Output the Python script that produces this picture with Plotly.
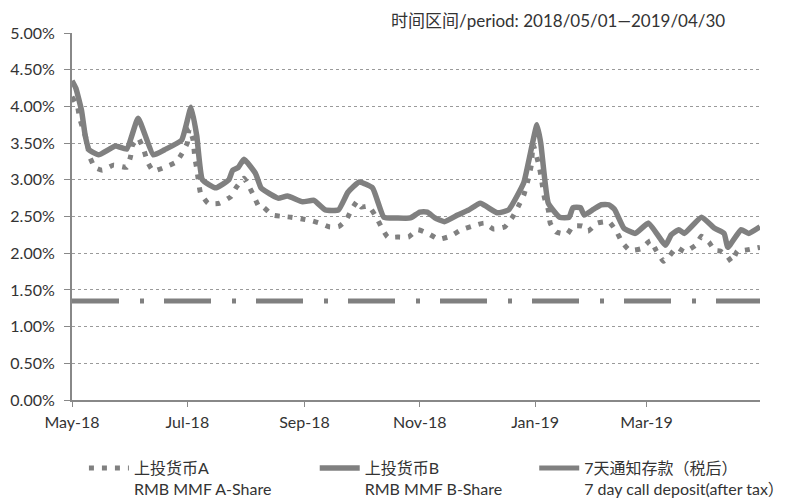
import plotly.graph_objects as go

# ---- data ----
a_dates = ["2018-05-01","2018-05-04","2018-05-05","2018-05-07","2018-05-09","2018-05-10","2018-05-13","2018-05-17",
           "2018-05-23","2018-05-30","2018-06-01","2018-06-02","2018-06-05","2018-06-08","2018-06-10","2018-06-13",
           "2018-06-19","2018-06-25","2018-06-28","2018-07-01","2018-07-02","2018-07-04","2018-07-05","2018-07-06",
           "2018-07-08","2018-07-12","2018-07-18","2018-07-24","2018-07-27","2018-07-31","2018-08-02","2018-08-05",
           "2018-08-08","2018-08-10","2018-08-15","2018-08-21","2018-08-25","2018-08-30","2018-09-05","2018-09-09",
           "2018-09-14","2018-09-19","2018-09-23","2018-09-26","2018-09-29","2018-10-01","2018-10-05","2018-10-09",
           "2018-10-12","2018-10-15","2018-10-20","2018-10-26","2018-10-31","2018-11-06","2018-11-11","2018-11-17",
           "2018-11-23","2018-11-29","2018-12-05","2018-12-10","2018-12-16","2018-12-20","2018-12-23","2018-12-26",
           "2018-12-28","2018-12-30","2018-12-31","2019-01-03","2019-01-04","2019-01-05","2019-01-06","2019-01-08",
           "2019-01-09","2019-01-12","2019-01-18","2019-01-21","2019-01-26","2019-01-29","2019-02-03","2019-02-09",
           "2019-02-13","2019-02-16","2019-02-20","2019-02-26","2019-03-03","2019-03-06","2019-03-10","2019-03-13",
           "2019-03-17","2019-03-21","2019-03-27","2019-03-30","2019-04-03","2019-04-06","2019-04-09","2019-04-13",
           "2019-04-15","2019-04-18","2019-04-22","2019-04-30"]
a_values = [4.13,3.99,3.84,3.68,3.52,3.34,3.17,3.13,
            3.20,3.17,3.32,3.47,3.57,3.41,3.24,3.12,
            3.17,3.24,3.35,3.50,3.70,3.55,3.30,3.15,
            2.82,2.68,2.68,2.77,2.90,3.02,2.94,2.79,
            2.63,2.63,2.52,2.50,2.49,2.47,2.44,2.41,
            2.36,2.36,2.45,2.60,2.71,2.63,2.64,2.49,
            2.34,2.22,2.22,2.22,2.32,2.26,2.19,2.23,
            2.32,2.37,2.41,2.33,2.36,2.49,2.63,2.79,
            2.97,3.20,3.48,3.20,3.07,2.90,2.75,2.59,
            2.41,2.29,2.26,2.37,2.37,2.30,2.41,2.43,
            2.30,2.15,2.04,2.06,2.17,2.04,1.89,1.96,
            2.08,2.02,2.11,2.23,2.15,2.04,2.03,1.95,
            1.88,2.03,2.04,2.08]

b_dates = ["2018-05-01","2018-05-03","2018-05-06","2018-05-08","2018-05-10","2018-05-15","2018-05-24","2018-05-30",
           "2018-06-05","2018-06-13","2018-06-19","2018-06-28","2018-07-03","2018-07-06","2018-07-09","2018-07-16",
           "2018-07-23","2018-07-25","2018-07-28","2018-07-31","2018-08-06","2018-08-09","2018-08-11","2018-08-18",
           "2018-08-23","2018-08-31","2018-09-06","2018-09-12","2018-09-19","2018-09-24","2018-09-30","2018-10-07",
           "2018-10-13","2018-10-20","2018-10-27","2018-11-01","2018-11-05","2018-11-09","2018-11-14","2018-11-21",
           "2018-11-27","2018-12-03","2018-12-12","2018-12-18","2018-12-26","2018-12-29","2019-01-02","2019-01-04",
           "2019-01-08","2019-01-14","2019-01-19","2019-01-21","2019-01-25","2019-01-27","2019-02-01","2019-02-05",
           "2019-02-09","2019-02-12","2019-02-17","2019-02-23","2019-03-02","2019-03-11","2019-03-14","2019-03-18",
           "2019-03-21","2019-03-30","2019-04-06","2019-04-11","2019-04-13","2019-04-20","2019-04-24","2019-04-30"]
b_values = [4.35,4.25,3.95,3.60,3.41,3.34,3.46,3.42,
            3.84,3.34,3.41,3.54,3.99,3.60,3.00,2.89,
            3.00,3.13,3.17,3.28,3.09,2.89,2.85,2.75,
            2.78,2.70,2.72,2.59,2.59,2.83,2.97,2.89,
            2.49,2.48,2.48,2.56,2.56,2.48,2.43,2.52,
            2.59,2.68,2.55,2.59,2.96,3.30,3.75,3.50,
            2.68,2.49,2.49,2.62,2.62,2.52,2.60,2.66,
            2.66,2.60,2.34,2.27,2.41,2.11,2.25,2.32,
            2.27,2.49,2.34,2.27,2.08,2.32,2.27,2.36]

c_dates = ["2018-05-01","2019-04-30"]
c_values = [1.35,1.35]

names = ["上投货币A<br>RMB MMF A-Share", "上投货币B<br>RMB MMF B-Share", "7天通知存款（税后）<br>7 day call deposit(after tax）"]
y_ticks = [0,0.5,1.0,1.5,2.0,2.5,3.0,3.5,4.0,4.5,5.0]
y_tick_labels = ["0.00%","0.50%","1.00%","1.50%","2.00%","2.50%","3.00%","3.50%","4.00%","4.50%","5.00%"]
period_text = "时间区间/period: 2018/05/01—2019/04/30"

GRAY = "#808080"
FONT = "Lato, 'Noto Sans CJK SC', sans-serif"

fig = go.Figure()
fig.add_trace(go.Scatter(x=a_dates, y=a_values, mode="lines", name=names[0], legend="legend",
                         line=dict(color=GRAY, width=5, dash="5px,8px", shape="spline", smoothing=0.4)))
fig.add_trace(go.Scatter(x=b_dates, y=b_values, mode="lines", name=names[1], legend="legend2",
                         line=dict(color=GRAY, width=5.5, shape="spline", smoothing=0.4)))
fig.add_trace(go.Scatter(x=c_dates, y=c_values, mode="lines", name=names[2], legend="legend3",
                         line=dict(color=GRAY, width=5, dash="47px,21px,4px,20px")))

def leg(xpos):
    return dict(orientation="h", xref="container", yref="container",
                x=xpos, y=0.094, xanchor="left", yanchor="top", valign="top",
                font=dict(family=FONT, size=16, color="#333333"),
                itemwidth=40, bgcolor="rgba(0,0,0,0)")

fig.update_layout(
    width=807, height=498,
    margin=dict(l=72, r=47, t=33, b=98),
    paper_bgcolor="white", plot_bgcolor="white",
    font=dict(family=FONT, size=16, color="#333333"),
    showlegend=True,
    legend=leg(0.104), legend2=leg(0.390), legend3=leg(0.662),
    annotations=[dict(text=period_text, xref="paper", yref="paper", x=0.952, y=1.035,
                      xanchor="right", yanchor="middle", showarrow=False,
                      font=dict(family=FONT, size=17, color="#333333"))],
)
fig.update_xaxes(type="date", range=["2018-05-01", "2019-04-30"], automargin=False,
                 tick0="2018-05-01", dtick="M2", tickformat="%b-%y",
                 showgrid=False, showline=True, linecolor="#888888", linewidth=2,
                 ticks="outside", ticklen=5, tickcolor="#888888", tickwidth=1,
                 ticklabelstandoff=2, zeroline=False)
fig.update_yaxes(range=[0, 5], tickvals=y_ticks, ticktext=y_tick_labels, automargin=False,
                 showgrid=True, gridcolor="#9a9a9a", griddash="dot", gridwidth=1,
                 showline=True, linecolor="#888888", linewidth=2,
                 ticks="outside", ticklen=6, tickcolor="#888888", tickwidth=1,
                 ticklabelstandoff=6, zeroline=False)

fig.write_html("out.html", config={"displayModeBar": False},
               post_script="document.body.style.margin='0';document.body.style.overflow='hidden';")
